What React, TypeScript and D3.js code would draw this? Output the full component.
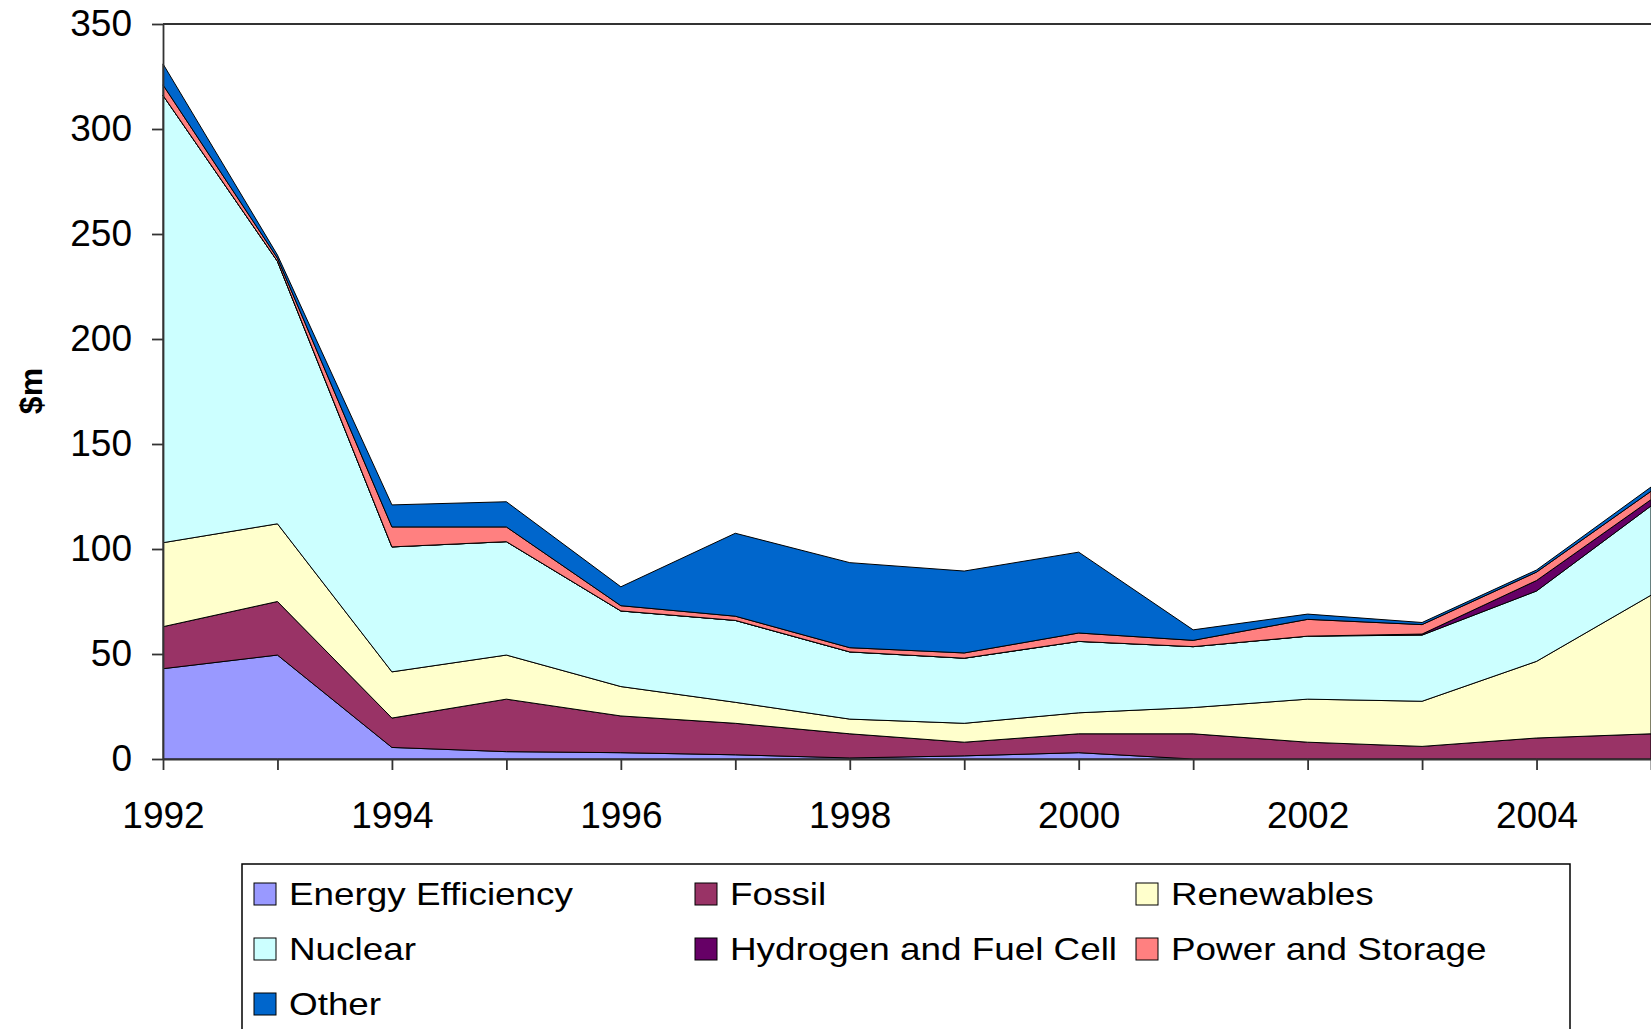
import React, { useEffect, useRef } from "react";
import * as d3 from "d3";

const years = [1992, 1993, 1994, 1995, 1996, 1997, 1998, 1999, 2000, 2001, 2002, 2003, 2004, 2005];

const energyEfficiency = [43, 49.5, 5.5, 3.5, 3, 2, 0.5, 1.5, 3, 0, 0, 0, 0, 0];
const fossil = [20, 25.5, 14, 25, 17.5, 15, 11.5, 6.5, 9, 12, 8, 6, 10, 12];
const renewables = [40, 37, 22, 21, 14, 10, 7, 9, 10, 12.5, 20.5, 21.5, 36.5, 66];
const nuclear = [213, 125, 59.5, 54, 36, 39, 32, 31, 34, 29, 30, 31.5, 33.5, 42.5];
const hydrogen = [0, 0, 0, 0, 0, 0, 0, 0, 0, 0, 0, 0.5, 5, 3];
const powerStorage = [5, 1.5, 9.5, 7, 2.5, 2, 2, 2.5, 4, 3, 8, 4.5, 4, 4];
const other = [10, 1.5, 10.5, 12, 9, 39.5, 40.5, 39, 38.5, 5, 2.5, 1, 1, 2];

const seriesNames = [
  "Energy Efficiency",
  "Fossil",
  "Renewables",
  "Nuclear",
  "Hydrogen and Fuel Cell",
  "Power and Storage",
  "Other",
];
const seriesColors = ["#9999FF", "#993366", "#FFFFCC", "#CCFFFF", "#660066", "#FF8080", "#0066CC"];

const yTicks = [0, 50, 100, 150, 200, 250, 300, 350];

const FONT = "'Liberation Sans', Arial, sans-serif";

const App = () => {
  const ref = useRef<SVGSVGElement>(null);

  useEffect(() => {
    const svg = d3.select(ref.current);
    svg.selectAll("*").remove();

    const x = d3.scaleLinear().domain([1992, 2005]).range([163, 1651]);
    const y = d3.scaleLinear().domain([0, 350]).range([759, 24]);

    const values = [energyEfficiency, fossil, renewables, nuclear, hydrogen, powerStorage, other];
    const table = years.map((yr, i) => {
      const row: any = { year: yr };
      seriesNames.forEach((s, k) => (row[s] = values[k][i]));
      return row;
    });

    const stacked = d3.stack().keys(seriesNames)(table);
    const color = d3.scaleOrdinal<string>().domain(seriesNames).range(seriesColors);

    const area = d3
      .area<any>()
      .x((d) => x(d.data.year))
      .y0((d) => y(d[0]))
      .y1((d) => y(d[1]));

    // Areas
    svg
      .append("g")
      .selectAll("path")
      .data(stacked)
      .join("path")
      .attr("fill", (d) => color(d.key))
      .attr("stroke", "#000")
      .attr("stroke-width", 1)
      .attr("stroke-linejoin", "round")
      .attr("d", area);

    // Plot top border
    svg
      .append("line")
      .attr("x1", 163)
      .attr("x2", 1651)
      .attr("y1", y(350))
      .attr("y2", y(350))
      .attr("stroke", "#333")
      .attr("stroke-width", 2);

    // Y axis
    const yAxis = svg
      .append("g")
      .attr("transform", "translate(163,0)")
      .call(
        d3.axisLeft(y).tickValues(yTicks).tickSize(11).tickSizeOuter(0).tickPadding(20)
      );
    yAxis.selectAll("text").attr("font-size", 37).attr("font-family", FONT).attr("fill", "#000");

    // X axis
    const xAxis = svg
      .append("g")
      .attr("transform", `translate(0,${y(0)})`)
      .call(
        d3
          .axisBottom(x)
          .tickValues(years)
          .tickSize(11)
          .tickSizeOuter(0)
          .tickPadding(32)
          .tickFormat((d: any) => (d % 2 === 0 ? String(d) : ""))
      );
    xAxis.selectAll("text").attr("font-size", 37).attr("font-family", FONT).attr("fill", "#000");

    svg.selectAll(".domain, .tick line").attr("stroke", "#333").attr("stroke-width", 1.8);

    // Y title
    svg
      .append("text")
      .attr("transform", "translate(42,391) rotate(-90)")
      .attr("text-anchor", "middle")
      .attr("font-family", FONT)
      .attr("font-weight", "bold")
      .attr("font-size", 32)
      .text("$m");

    // Legend
    const legend = svg.append("g");
    legend
      .append("rect")
      .attr("x", 242)
      .attr("y", 864)
      .attr("width", 1328)
      .attr("height", 220)
      .attr("fill", "#fff")
      .attr("stroke", "#000")
      .attr("stroke-width", 1.5);

    const items = legend
      .selectAll("g.item")
      .data(seriesNames)
      .join("g")
      .attr("class", "item")
      .attr("transform", (d, i) => `translate(${254 + (i % 3) * 441},${905 + Math.floor(i / 3) * 55})`);

    items
      .append("rect")
      .attr("x", 0)
      .attr("y", -22)
      .attr("width", 22)
      .attr("height", 22)
      .attr("fill", (d) => color(d))
      .attr("stroke", "#000")
      .attr("stroke-width", 1);

    // legend text in the reference is a little wider than it is tall
    items
      .append("text")
      .attr("transform", "translate(35,0) scale(1.17,1)")
      .attr("font-family", FONT)
      .attr("font-size", 31.5)
      .text((d) => d);
  }, []);

  return (
    <svg
      ref={ref}
      width={1651}
      height={1029}
      style={{ position: "absolute", left: 0, top: 0, background: "#fff" }}
    />
  );
};

export default App;
